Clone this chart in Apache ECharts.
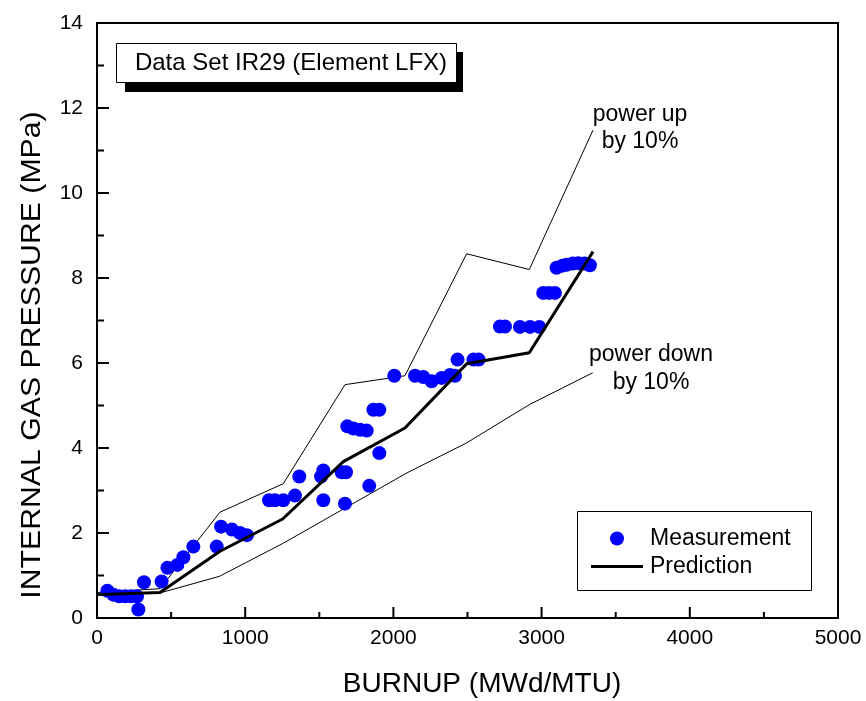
<!DOCTYPE html>
<html>
<head>
<meta charset="utf-8">
<script src="https://cdn.jsdelivr.net/npm/echarts@6/dist/echarts.min.js"></script>
<style>
  html, body { margin: 0; padding: 0; background: #fff; }
  #main { width: 866px; height: 701px; }
</style>
</head>
<body>
<div id="main"></div>
<script>
// measured points (burnup MWd/MTU, pressure MPa)
var measBurnup = [70, 110, 150, 190, 230, 270, 279, 317, 436, 475,
                  542, 583, 650, 808, 837, 911, 965, 1012, 1161, 1201,
                  1257, 1336, 1365, 1512, 1527, 1527, 1651, 1680, 1673, 1837,
                  1905, 1689, 1730, 1775, 1820, 1865, 1905, 2006, 2146, 2202,
                  2258, 2325, 2382, 2416, 2433, 2540, 2575, 2719, 2753, 2854,
                  2922, 2984, 3011, 3050, 3090, 3101, 3140, 3169, 3210, 3247,
                  3290, 3326];
var measPress = [0.64, 0.55, 0.51, 0.51, 0.51, 0.51, 0.2, 0.84, 0.86, 1.18,
                 1.25, 1.43, 1.68, 1.68, 2.15, 2.08, 2.0, 1.95, 2.77, 2.77,
                 2.77, 2.88, 3.33, 3.33, 3.47, 2.77, 3.43, 3.43, 2.69, 3.11,
                 3.88, 4.51, 4.46, 4.43, 4.41, 4.9, 4.9, 5.7, 5.7, 5.67,
                 5.57, 5.65, 5.72, 5.7, 6.08, 6.08, 6.08, 6.86, 6.86, 6.85,
                 6.85, 6.85, 7.65, 7.65, 7.65, 8.24, 8.29, 8.31, 8.34, 8.35,
                 8.34, 8.3];

var predBurnup = [0, 425, 830, 1253, 1662, 2078, 2494, 2917, 3347];
var predPress  = [0.55, 0.6, 1.57, 2.33, 3.68, 4.47, 5.98, 6.24, 8.62];

var upBurnup = [0, 425, 830, 1257, 1673, 2078, 2494, 2917, 3347];
var upPress  = [0.6, 0.69, 2.49, 3.16, 5.49, 5.7, 8.57, 8.2, 11.48];

var downBurnup = [0, 425, 826, 1257, 2089, 2494, 2917, 3345];
var downPress  = [0.55, 0.59, 0.98, 1.76, 3.41, 4.12, 5.02, 5.77];

// tick positions
var xMajor = [1000, 2000, 3000, 4000];
var yMajor = [2, 4, 6, 8, 10, 12, 14];
var xMinor = [500, 1500, 2500, 3500, 4500];
var yMinor = [1, 3, 5, 7, 9, 11, 13];

function pairs(xs, ys) {
  var out = [];
  for (var i = 0; i < xs.length; i++) out.push([xs[i], ys[i]]);
  return out;
}

var FONT = 'Liberation Sans';
var chart = echarts.init(document.getElementById('main'));

function axis(max, step, margin) {
  return {
    type: 'value', min: 0, max: max, interval: step,
    axisLine: { show: true, lineStyle: { color: '#000', width: 2 } },
    axisTick: { show: false },
    axisLabel: { color: '#000', fontSize: 21, fontFamily: FONT, margin: margin,
                 formatter: function (v) { return String(v); } },
    splitLine: { show: false }
  };
}

// inside ticks as thin filled bars placed through the axis scales
function ticks(values, isX, len) {
  return {
    type: 'custom', silent: true, z: 20, clip: false,
    data: values.map(function (v) { return isX ? [v, 0] : [0, v]; }),
    renderItem: function (params, api) {
      var p = api.coord([api.value(0), api.value(1)]);
      var shape = isX ? { x: p[0] - 1, y: p[1] - len, width: 2, height: len }
                      : { x: p[0], y: p[1] - 1, width: len, height: 2 };
      return { type: 'rect', shape: shape, style: { fill: '#000' } };
    }
  };
}

var option = {
  backgroundColor: '#fff',
  animation: false,
  textStyle: { fontFamily: FONT, color: '#000' },
  grid: {
    left: 97, right: 28, top: 23, bottom: 83,
    show: true, borderColor: '#000', borderWidth: 2, backgroundColor: 'transparent'
  },
  xAxis: axis(5000, 1000, 10),
  yAxis: axis(14, 2, 14),
  legend: {
    orient: 'vertical',
    left: 591, top: 527,
    itemWidth: 52, itemHeight: 14, itemGap: 5,
    padding: 0,
    textStyle: { fontSize: 23, fontFamily: FONT, color: '#000', padding: [0, 0, 0, 2] },
    data: [
      { name: 'Measurement', icon: 'circle' },
      { name: 'Prediction', icon: 'path://M0,0 H52 V3 H0 Z' }
    ]
  },
  series: [
    {
      name: 'power up', type: 'line', symbol: 'none',
      data: pairs(upBurnup, upPress),
      lineStyle: { color: '#000', width: 1 }, z: 2
    },
    {
      name: 'power down', type: 'line', symbol: 'none',
      data: pairs(downBurnup, downPress),
      lineStyle: { color: '#000', width: 1 }, z: 2
    },
    {
      name: 'Measurement', type: 'scatter', symbol: 'circle', symbolSize: 14,
      data: pairs(measBurnup, measPress),
      itemStyle: { color: '#0000ff', opacity: 1 }, z: 3
    },
    {
      name: 'Prediction', type: 'line', symbol: 'none',
      data: pairs(predBurnup, predPress),
      itemStyle: { color: '#000' },
      lineStyle: { color: '#000', width: 3 }, z: 4
    },
    ticks(xMajor, true, 11),
    ticks(yMajor, false, 12),
    ticks(xMinor, true, 6),
    ticks(yMinor, false, 7)
  ],
  graphic: [
    // title box with drop shadow
    { type: 'rect', shape: { x: 125, y: 52, width: 338, height: 40 }, style: { fill: '#000' }, z: 10 },
    { type: 'rect', shape: { x: 116.5, y: 43.5, width: 340, height: 39 },
      style: { fill: '#fff', stroke: '#000', lineWidth: 1 }, z: 11 },
    { type: 'text', x: 291, y: 63, z: 12,
      style: { text: 'Data Set IR29 (Element LFX)', font: '24px ' + FONT, fill: '#000',
               textAlign: 'center', textVerticalAlign: 'middle' } },
    // legend frame
    { type: 'rect', shape: { x: 577.5, y: 511.5, width: 234, height: 79 },
      style: { fill: 'none', stroke: '#000', lineWidth: 1 }, z: 5 },
    // curve notes
    { type: 'text', x: 640, y: 115, z: 12,
      style: { text: 'power up', font: '23px ' + FONT, fill: '#000', textAlign: 'center', textVerticalAlign: 'middle' } },
    { type: 'text', x: 640, y: 142, z: 12,
      style: { text: 'by 10%', font: '23px ' + FONT, fill: '#000', textAlign: 'center', textVerticalAlign: 'middle' } },
    { type: 'text', x: 651, y: 355, z: 12,
      style: { text: 'power down', font: '23px ' + FONT, fill: '#000', textAlign: 'center', textVerticalAlign: 'middle' } },
    { type: 'text', x: 651, y: 383, z: 12,
      style: { text: 'by 10%', font: '23px ' + FONT, fill: '#000', textAlign: 'center', textVerticalAlign: 'middle' } },
    // axis titles
    { type: 'text', x: 482, y: 684, z: 12,
      style: { text: 'BURNUP (MWd/MTU)', font: '28px ' + FONT, fill: '#000', textAlign: 'center', textVerticalAlign: 'middle' } },
    { type: 'text', x: 32, y: 355, rotation: Math.PI / 2, scaleX: 1.08, z: 12,
      style: { text: 'INTERNAL GAS PRESSURE (MPa)', font: '28px ' + FONT, fill: '#000', textAlign: 'center', textVerticalAlign: 'middle' } }
  ]
};

chart.setOption(option);
</script>
</body>
</html>
